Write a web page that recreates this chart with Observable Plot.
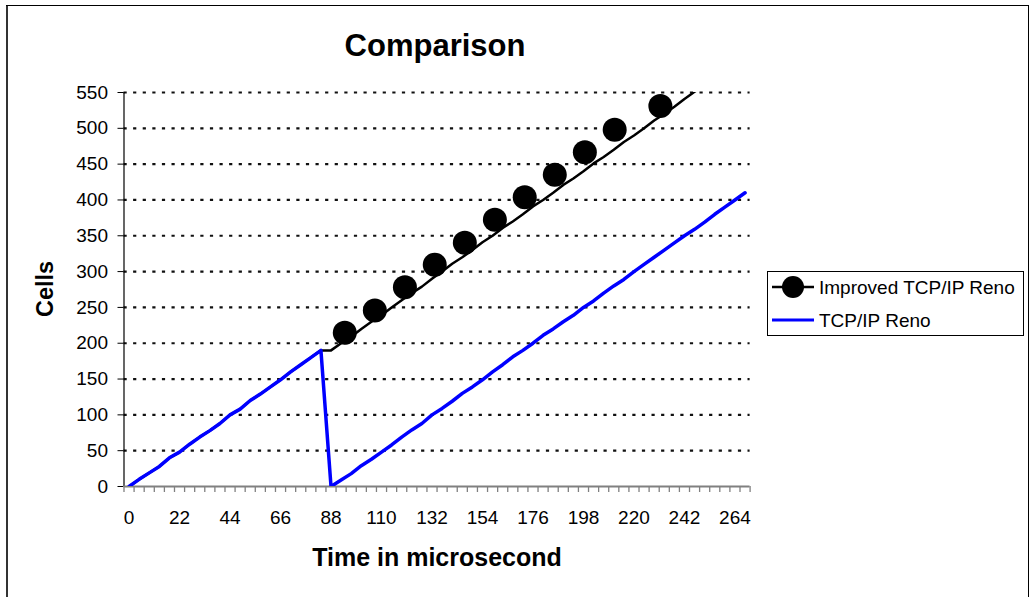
<!DOCTYPE html>
<html>
<head>
<meta charset="utf-8">
<script src="https://cdn.jsdelivr.net/npm/d3@7"></script>
<script src="https://cdn.jsdelivr.net/npm/@observablehq/plot@0.6"></script>
<style>
  html, body { margin: 0; padding: 0; background: #fff; }
  #wrap { position: relative; width: 1029px; height: 597px; overflow: hidden; }
  #wrap > svg, #wrap > figure { position: absolute; left: 0; top: 0; margin: 0; }
</style>
</head>
<body>
<div id="wrap"></div>
<script>
// ---- data ----
const titleText = "Comparison";
const xTitle = "Time in microsecond";
const yTitle = "Cells";
const seriesNames = ["Improved TCP/IP Reno", "TCP/IP Reno"];

const categories = [0, 4.4, 8.8, 13.2, 17.6, 22, 26.4, 30.8, 35.2, 39.6, 44, 48.4, 52.8, 57.2, 61.6, 66, 70.4, 74.8, 79.2, 83.6,
  88, 92.4, 96.8, 101.2, 105.6, 110, 114.4, 118.8, 123.2, 127.6, 132, 136.4, 140.8, 145.2, 149.6, 154, 158.4, 162.8, 167.2, 171.6,
  176, 180.4, 184.8, 189.2, 193.6, 198, 202.4, 206.8, 211.2, 215.6, 220, 224.4, 228.8, 233.2, 237.6, 242, 246.4, 250.8, 255.2, 259.6,
  264, 268.4];

const renoValues = [0, 10, 19, 28, 40, 48, 59, 69, 78, 88, 100, 108, 120, 129, 139, 149, 160, 170, 180, 190,
  0, 9, 18, 29, 38, 48, 58, 69, 79, 88, 100, 109, 119, 130, 139, 149, 160, 170, 181, 190,
  200, 211, 220, 230, 239, 250, 259, 270, 280, 289, 300, 310, 320, 330, 340, 350, 359, 369, 380, 390,
  400, 410];

const improvedValues = [0, 10, 19, 28, 40, 48, 59, 69, 78, 88, 100, 108, 120, 129, 139, 149, 160, 170, 180, 190,
  190, 200, 209, 220, 230, 239, 250, 260, 270, 279, 290, 300, 311, 320, 330, 341, 350, 361, 370, 380,
  391, 400, 410, 421, 430, 440, 451, 460, 470, 481, 490, 500, 511, 520, 530, 541, 551, 561, 571, 581,
  591, 601];

const markerX = [94.0, 107.1, 120.2, 133.2, 146.3, 159.4, 172.4, 185.5, 198.6, 211.6, 231.5];
const markerY = [214.5, 245.7, 278.2, 309.6, 340.3, 372.4, 403.9, 435.1, 466.7, 497.9, 531.3];

const xTickLabels = [0, 22, 44, 66, 88, 110, 132, 154, 176, 198, 220, 242, 264];
const yTickValues = [0, 50, 100, 150, 200, 250, 300, 350, 400, 450, 500, 550];

// ---- derived tables ----
const rows = categories.map((x, i) => ({x, reno: renoValues[i], improved: improvedValues[i]}));
const markers = markerX.map((x, i) => ({x, y: markerY[i]}));
const half = (categories[1] - categories[0]) / 2;
const boundaries = [categories[0] - half, ...categories.map(c => c + half)];
const xDomain = [boundaries[0], boundaries[boundaries.length - 1]];

const W = 1029, H = 597;
const FONT = "'Liberation Sans', Arial, Helvetica, sans-serif";

const chart = Plot.plot({
  width: W,
  height: H,
  marginLeft: 123.5,
  marginRight: W - 749.6,
  marginTop: 92,
  marginBottom: H - 486,
  style: {fontFamily: FONT, fontSize: "19px", color: "#000", background: "transparent", overflow: "visible"},
  x: {domain: xDomain},
  y: {domain: [0, 550]},
  marks: [
    Plot.ruleY(yTickValues.filter(v => v > 0), {stroke: "#111", strokeWidth: 2.2, strokeDasharray: "3.2,6.4"}),
    Plot.ruleX([xDomain[0]], {stroke: "#000", strokeWidth: 1.2}),
    Plot.axisY(yTickValues, {tickSize: 6, tickPadding: 10, tickFormat: d => d, stroke: "#000", fontSize: 19, label: null}),
    Plot.axisX(boundaries, {tickSize: 6, tickFormat: () => "", stroke: "#808080", strokeWidth: 1.3, label: null}),
    Plot.axisX(xTickLabels, {tickSize: 0, tickPadding: 24, tickFormat: d => d, fontSize: 19, label: null}),
    Plot.ruleY([0], {stroke: "#808080", strokeWidth: 2}),
    Plot.line(rows, {x: "x", y: "improved", stroke: "#000", strokeWidth: 2.5, clip: true}),
    Plot.dot(markers, {x: "x", y: "y", r: 12, fill: "#000", stroke: "none"}),
    Plot.line(rows, {x: "x", y: "reno", stroke: "#0000ff", strokeWidth: 3.5, clip: true})
  ]
});

const wrap = document.getElementById("wrap");
wrap.appendChild(chart);

// ---- overlay: frame, titles, legend ----
const svg = d3.select(wrap).append("svg")
  .attr("width", W).attr("height", H)
  .style("position", "absolute").style("left", 0).style("top", 0)
  .style("font-family", FONT);

// outer chart-area border
svg.append("line").attr("x1", 7).attr("x2", 7).attr("y1", 5).attr("y2", H).attr("stroke", "#333").attr("stroke-width", 2);
svg.append("line").attr("x1", 6).attr("x2", 1028.5).attr("y1", 5.5).attr("y2", 5.5).attr("stroke", "#000").attr("stroke-width", 1);
svg.append("line").attr("x1", 1028.5).attr("x2", 1028.5).attr("y1", 5).attr("y2", H).attr("stroke", "#000").attr("stroke-width", 1);

svg.append("text").attr("x", 435).attr("y", 56).attr("text-anchor", "middle")
  .attr("font-weight", "bold").attr("font-size", 31).text(titleText);

svg.append("text").attr("x", 437).attr("y", 566).attr("text-anchor", "middle")
  .attr("font-weight", "bold").attr("font-size", 25).text(xTitle);

svg.append("text").attr("transform", "translate(53,289) rotate(-90)").attr("text-anchor", "middle")
  .attr("font-weight", "bold").attr("font-size", 23.5).text(yTitle);

// legend
const lg = svg.append("g");
lg.append("rect").attr("x", 767.5).attr("y", 271.5).attr("width", 256).attr("height", 64)
  .attr("fill", "#fff").attr("stroke", "#000").attr("stroke-width", 1);
const rowsY = [287, 320];
lg.append("line").attr("x1", 772).attr("x2", 814).attr("y1", rowsY[0]).attr("y2", rowsY[0]).attr("stroke", "#000").attr("stroke-width", 2.5);
lg.append("circle").attr("cx", 793).attr("cy", rowsY[0]).attr("r", 11).attr("fill", "#000");
lg.append("line").attr("x1", 772).attr("x2", 814).attr("y1", rowsY[1]).attr("y2", rowsY[1]).attr("stroke", "#0000ff").attr("stroke-width", 3);
seriesNames.forEach((name, i) => {
  lg.append("text").attr("x", 819).attr("y", rowsY[i]).attr("dy", "0.35em")
    .attr("font-size", 19).text(name);
});
</script>
</body>
</html>
